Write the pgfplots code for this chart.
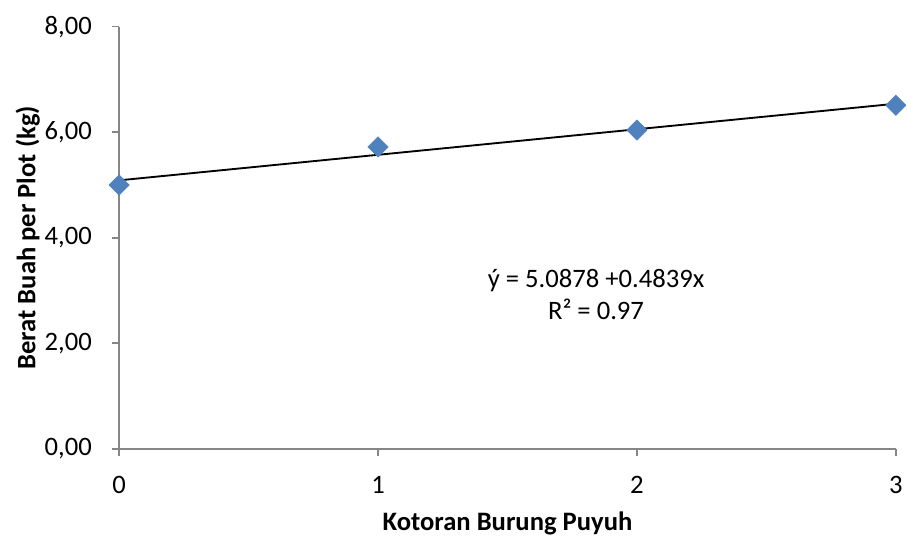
\documentclass[border=0pt]{standalone}
\usepackage{pgfplots}
\pgfplotsset{compat=1.18}
\usepackage{fontspec}
\setmainfont{Carlito}
\definecolor{ptblue}{HTML}{4F81BD}
\definecolor{axgray}{HTML}{868686}
\begin{document}
\begin{tikzpicture}
\begin{axis}[
  scale only axis,
  width=583.5pt, height=317.25pt,
  xmin=0, xmax=3, ymin=0, ymax=8,
  axis lines*=left,
  axis line style={axgray, line width=1.3pt},
  xtick={0,1,2,3}, ytick={0,2,4,6,8},
  tick style={axgray, line width=1.3pt},
  tick align=outside,
  major tick length=5.5pt,
  /pgf/number format/assume math mode=true,
  ticklabel style={font=\fontsize{20}{24}\selectfont},
  yticklabel style={xshift=-11.5pt, /pgf/number format/fixed, /pgf/number format/fixed zerofill, /pgf/number format/precision=2, /pgf/number format/use comma},
  xticklabel style={yshift=-11.5pt},
  xlabel={\textbf{Kotoran Burung Puyuh}},
  ylabel={\textbf{Berat Buah per Plot (kg)}},
  label style={font=\fontsize{20}{24}\selectfont, inner sep=0pt},
  xlabel style={at={([yshift=-61pt]axis description cs:0.5,0)}, anchor=base},
  ylabel style={at={([xshift=-63pt]axis description cs:0,0.5)}, anchor=base},
  clip=false,
]
\addplot[black, line width=1.4pt] coordinates {(0,5.0878) (3,6.5395)};
\addplot[only marks, mark=square*, mark size=5.4pt, mark options={fill=ptblue, draw=ptblue, rotate=45}] coordinates {
(0,5.00) (1,5.72) (2,6.04) (3,6.51)};
\node[font=\fontsize{20}{24}\selectfont, align=center] at (axis cs:1.842,2.92) {ý = 5.0878 +0.4839x\\R² = 0.97};
\path ([shift={(-89.5pt,-68pt)}]rel axis cs:0,0) rectangle ([shift={(7pt,20pt)}]rel axis cs:1,1);
\end{axis}
\end{tikzpicture}
\end{document}
